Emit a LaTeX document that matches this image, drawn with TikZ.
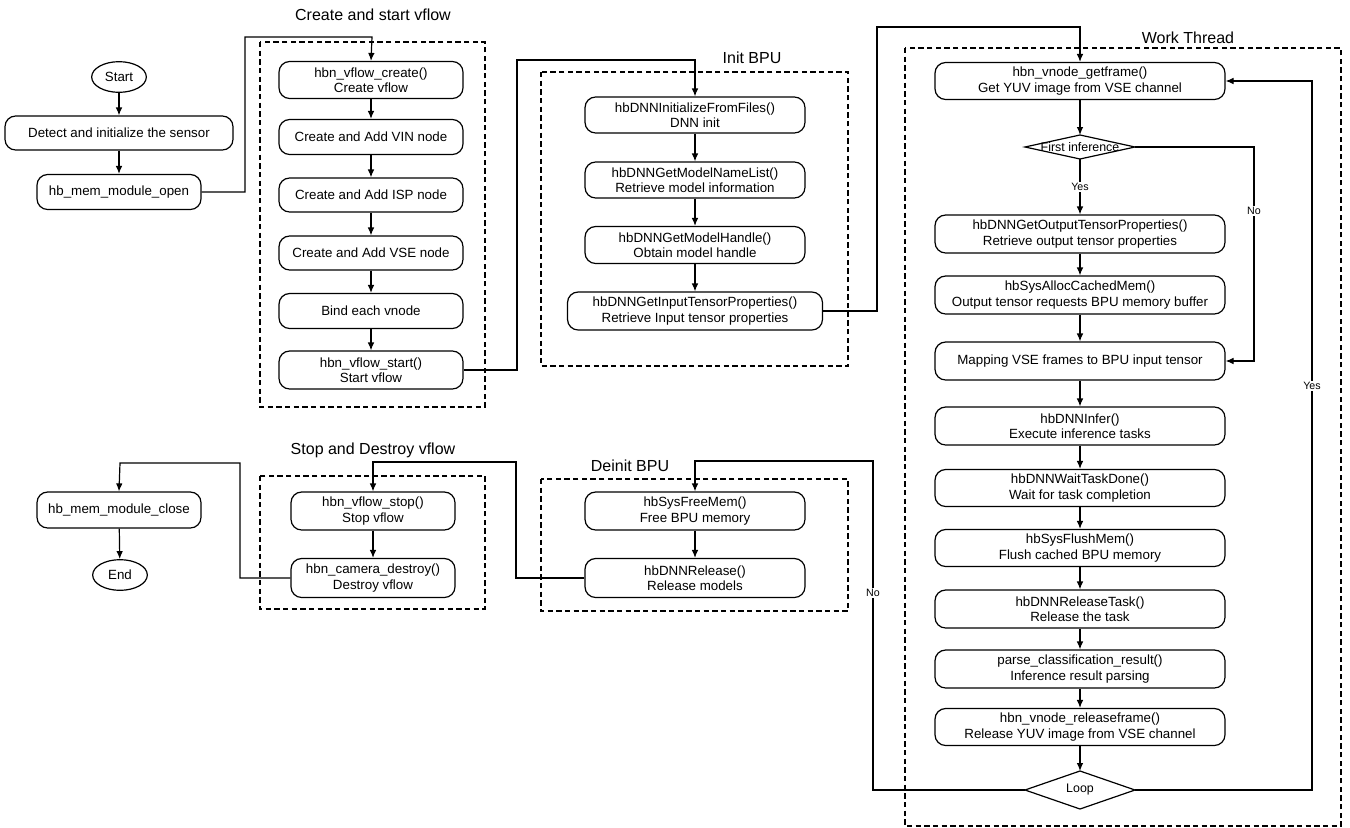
\documentclass[tikz,border=0pt]{standalone}
\usepackage{fontspec}
\setmainfont{Liberation Sans}
\usetikzlibrary{arrows.meta,shapes.geometric}
\newcommand{\bx}[5]{\node[box,minimum width=#3*0.75pt,minimum height=#4*0.75pt] (#1) at (#2) {#5};}
\begin{document}
\begin{tikzpicture}[x=0.75pt,y=-0.75pt,
  box/.style={draw,line width=0.9pt,rounded corners=8pt,align=center,inner sep=1pt,font=\fontsize{10}{11.5}\selectfont},
  oval/.style={draw,line width=0.9pt,ellipse,inner sep=1pt,minimum width=41pt,minimum height=23pt,font=\fontsize{10}{12}\selectfont},
  dtxt/.style={inner sep=0pt,font=\fontsize{9.3}{11}\selectfont},
  grp/.style={draw,dash pattern=on 4pt off 2.5pt,line width=0.8pt},
  ttl/.style={font=\fontsize{12}{14}\selectfont},
  lbl/.style={fill=white,inner sep=1pt,font=\fontsize{8}{10}\selectfont},
  arr/.style={line width=0.9pt,-{Latex[length=6pt,width=5pt]}}]
\useasboundingbox (0,0) rectangle (1350,828);
% groups
\draw[grp] (260,42) rectangle (485,407);
\node[ttl] at (373,15) {Create and start vflow};
\draw[grp] (541,72) rectangle (848,366);
\node[ttl] at (752,58) {Init BPU};
\draw[grp] (905,48) rectangle (1341,826);
\node[ttl] at (1188,38) {Work Thread};
\draw[grp] (541,479) rectangle (848,611);
\node[ttl] at (630,466) {Deinit BPU};
\draw[grp] (260,476) rectangle (485,609);
\node[ttl] at (373,450) {Stop and Destroy vflow};
% left
\node[oval] (st) at (119,77) {Start};
\bx{det}{119,133}{228}{34}{Detect and initialize the sensor}
\bx{mo}{119,192}{164}{35}{hb\_mem\_module\_open}
\bx{mc}{119,510}{164}{36}{hb\_mem\_module\_close}
\node[oval] (en) at (120,575) {End};
% vflow
\bx{vc}{371,80}{184}{37}{hbn\_vflow\_create()\\Create vflow}
\bx{vin}{371,137}{184}{35}{Create and Add VIN node}
\bx{isp}{371,195}{184}{34}{Create and Add ISP node}
\bx{vse}{371,253}{184}{34}{Create and Add VSE node}
\bx{bind}{371,311}{184}{35}{Bind each vnode}
\bx{vs}{371,370}{184}{38}{hbn\_vflow\_start()\\Start vflow}
% init bpu
\bx{b1}{695,115}{220}{36}{hbDNNInitializeFromFiles()\\DNN init}
\bx{b2}{695,180}{220}{36}{hbDNNGetModelNameList()\\Retrieve model information}
\bx{b3}{695,245}{220}{37}{hbDNNGetModelHandle()\\Obtain model handle}
\bx{b4}{695,311}{255}{38}{hbDNNGetInputTensorProperties()\\Retrieve Input tensor properties}
% work
\bx{w1}{1080,81}{290}{37}{hbn\_vnode\_getframe()\\Get YUV image from VSE channel}
\node[dtxt] (d1) at (1080,147) {First inference};
\coordinate (d1n) at (1080,135); \coordinate (d1s) at (1080,159);
\coordinate (d1e) at (1135,147); \coordinate (d1w) at (1025,147);
\draw[line width=0.9pt] (d1n) -- (d1e) -- (d1s) -- (d1w) -- cycle;
\bx{w2}{1080,234}{290}{38}{hbDNNGetOutputTensorProperties()\\Retrieve output tensor properties}
\bx{w3}{1080,295}{290}{38}{hbSysAllocCachedMem()\\Output tensor requests BPU memory buffer}
\bx{w4}{1080,361}{290}{38}{Mapping VSE frames to BPU input tensor}
\bx{w5}{1080,426}{290}{38}{hbDNNInfer()\\Execute inference tasks}
\bx{w6}{1080,488}{290}{37}{hbDNNWaitTaskDone()\\Wait for task completion}
\bx{w7}{1080,548}{290}{37}{hbSysFlushMem()\\Flush cached BPU memory}
\bx{w8}{1080,609}{290}{38}{hbDNNReleaseTask()\\Release the task}
\bx{w9}{1080,669}{290}{38}{parse\_classification\_result()\\Inference result parsing}
\bx{w10}{1080,727}{290}{37}{hbn\_vnode\_releaseframe()\\Release YUV image from VSE channel}
\node[dtxt] (d2) at (1080,790) {Loop};
\coordinate (d2n) at (1080,771); \coordinate (d2s) at (1080,809);
\coordinate (d2e) at (1135,790); \coordinate (d2w) at (1025,790);
\draw[line width=0.9pt] (d2n) -- (d2e) -- (d2s) -- (d2w) -- cycle;
% deinit
\bx{f1}{695,511}{220}{38}{hbSysFreeMem()\\Free BPU memory}
\bx{f2}{695,578}{220}{39}{hbDNNRelease()\\Release models}
\bx{s1}{373,511}{164}{38}{hbn\_vflow\_stop()\\Stop vflow}
\bx{s2}{373,578}{164}{39}{hbn\_camera\_destroy()\\Destroy vflow}
% arrows
\draw[arr] (st) -- (det);
\draw[arr] (det) -- (mo);
\draw[arr] (mo.east) -- (245,192) -- (245,37) -- (372,37) -- (vc.north);
\draw[arr] (vc) -- (vin);
\draw[arr] (vin) -- (isp);
\draw[arr] (isp) -- (vse);
\draw[arr] (vse) -- (bind);
\draw[arr] (bind) -- (vs);
\draw[arr] (vs.east) -- (517,370) -- (517,60) -- (695,60) -- (b1.north);
\draw[arr] (b1) -- (b2);
\draw[arr] (b2) -- (b3);
\draw[arr] (b3) -- (b4);
\draw[arr] (b4.east) -- (877,311) -- (877,27) -- (1080,27) -- (w1.north);
\draw[arr] (w1) -- (d1n);
\draw[arr] (d1s) -- node[lbl,pos=0.5]{Yes} (w2);
\draw[arr] (d1e) -- (1254,147) -- node[lbl,pos=0.3]{No} (1254,361) -- (w4.east);
\draw[arr] (w2) -- (w3);
\draw[arr] (w3) -- (w4);
\draw[arr] (w4) -- (w5);
\draw[arr] (w5) -- (w6);
\draw[arr] (w6) -- (w7);
\draw[arr] (w7) -- (w8);
\draw[arr] (w8) -- (w9);
\draw[arr] (w9) -- (w10);
\draw[arr] (w10) -- (d2n);
\draw[arr] (d2e) -- (1312,790) -- node[lbl,pos=0.57]{Yes} (1312,81) -- (w1.east);
\draw[arr] (d2w) -- (873,790) -- node[lbl,pos=0.6]{No} (873,461) -- (695,461) -- (f1.north);
\draw[arr] (f1) -- (f2);
\draw[arr] (f2.west) -- (516,578) -- (516,462) -- (373,462) -- (s1.north);
\draw[arr] (s1) -- (s2);
\draw[arr] (s2.west) -- (240,578) -- (240,463) -- (120,463) -- (mc.north);
\draw[arr] (mc) -- (en);
\end{tikzpicture}
\end{document}
